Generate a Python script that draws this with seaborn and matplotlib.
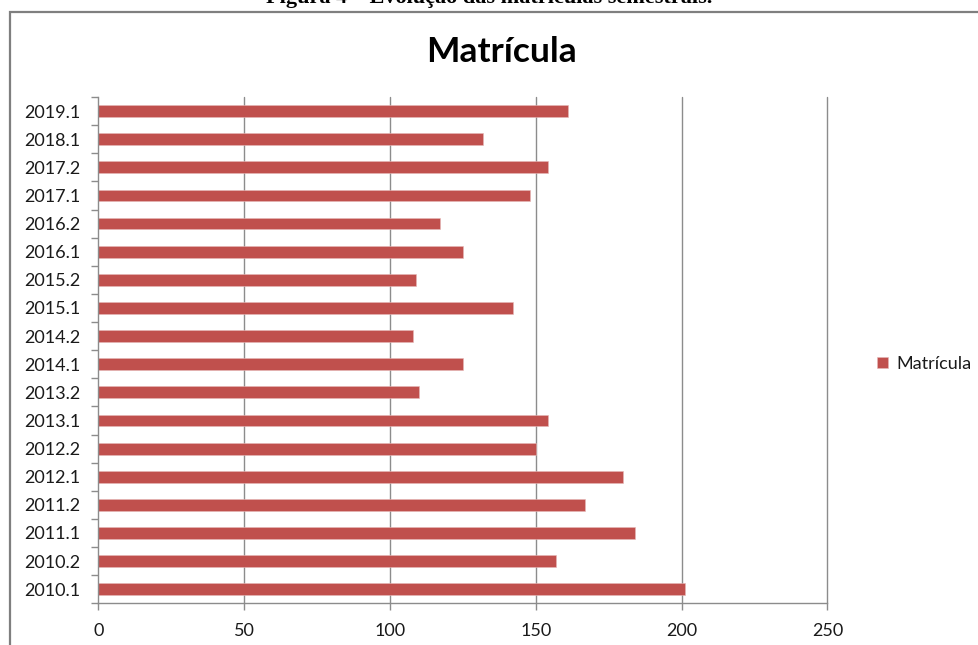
import matplotlib
matplotlib.use("Agg")
import matplotlib.pyplot as plt
from matplotlib.patches import Rectangle
from matplotlib.ticker import FixedLocator, NullFormatter
import seaborn as sns
import pandas as pd

# Matrículas por semestre
semestres = ["2010.1", "2010.2", "2011.1", "2011.2", "2012.1", "2012.2",
             "2013.1", "2013.2", "2014.1", "2014.2", "2015.1", "2015.2",
             "2016.1", "2016.2", "2017.1", "2017.2", "2018.1", "2019.1"]
matriculas = [201, 157, 184, 167, 180, 150,
              154, 110, 125, 108, 142, 109,
              125, 117, 148, 154, 132, 161]
x_ticks = [0, 50, 100, 150, 200, 250]

titulo = "Matrícula"
legenda = "Matrícula"
legenda_figura = "Figura 4 – Evolução das matrículas semestrais."

sns.set_theme(style="white")
plt.rcParams["font.family"] = ["Lato", "DejaVu Sans"]

df = pd.DataFrame({"semestre": semestres, "matriculas": matriculas})

fig = plt.figure(figsize=(9.79, 6.45), dpi=100)
ax = fig.add_axes([98.5 / 979, 1 - 603.3 / 645, (827.5 - 98.5) / 979, (603.3 - 97) / 645])

cor_barra = "#C0504D"
cinza = "#8C8C8C"
cor_texto = "#1a1a1a"

sns.barplot(data=df, x="matriculas", y="semestre", order=semestres[::-1],
            color=cor_barra, width=0.42, saturation=1, ax=ax,
            label=legenda, edgecolor="#E6B8B7", linewidth=0.4)

handles, labels = ax.get_legend_handles_labels()
if ax.get_legend() is not None:
    ax.get_legend().remove()

ax.set_xlim(0, 250)
ax.set_ylim(len(semestres) - 0.5, -0.5)
ax.set_xticks(x_ticks)
ax.set_xticklabels([str(v) for v in x_ticks])
ax.set_xlabel("")
ax.set_ylabel("")

# vertical gridlines
ax.grid(False)
for v in x_ticks[1:]:
    ax.axvline(v, color=cinza, linewidth=1.0, zorder=0, clip_on=False)

# category boundaries as tick marks
ax.yaxis.set_minor_locator(FixedLocator([i - 0.5 for i in range(len(semestres) + 1)]))
ax.yaxis.set_minor_formatter(NullFormatter())
ax.tick_params(axis="y", which="major", length=0, pad=13, labelsize=13, labelcolor=cor_texto)
ax.tick_params(axis="y", which="minor", length=5, width=1, color=cinza, left=True)
ax.tick_params(axis="x", which="major", length=5, width=1, color=cinza, bottom=True,
               pad=9, labelsize=13, labelcolor=cor_texto)

for side in ["top", "right"]:
    ax.spines[side].set_visible(False)
for side in ["left", "bottom"]:
    ax.spines[side].set_visible(True)
    ax.spines[side].set_color(cinza)
    ax.spines[side].set_linewidth(1.0)

# title
fig.text(0.512, 1 - 52 / 645, titulo, ha="center", va="center",
         fontsize=25.5, fontweight="bold", color="black")

# legend to the right of the plot area
fig.legend(handles, labels, loc="center left",
           bbox_to_anchor=(861 / 979, 1 - 364 / 645), frameon=False,
           handlelength=0.6, handleheight=0.6, handletextpad=0.45,
           fontsize=13, labelcolor=cor_texto)

# chart frame
fig.patches.append(Rectangle((10 / 979, -0.1), 1.2, 1 - 12 / 645 + 0.1,
                             transform=fig.transFigure, fill=False,
                             edgecolor="#7F7F7F", linewidth=1.6))

# figure caption above the frame
fig.text(0.50, 1 + 2 / 645, legenda_figura, ha="center", va="center",
         fontsize=16, fontweight="bold", family=["Liberation Serif"], color="black")

fig.savefig("out.png", dpi=100)
